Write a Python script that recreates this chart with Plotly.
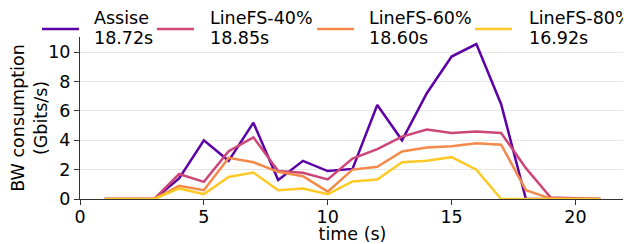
import plotly.graph_objects as go

time_s = list(range(1, 22))
assise = [0, 0, 0, 1.4, 4.0, 2.6, 5.2, 1.3, 2.6, 1.9, 2.05, 6.4, 4.0, 7.2, 9.7, 10.55, 6.45, 0, 0, 0, 0]
linefs40 = [0, 0, 0, 1.7, 1.17, 3.26, 4.2, 1.9, 1.78, 1.33, 2.75, 3.4, 4.25, 4.73, 4.5, 4.6, 4.5, 2.1, 0.1, 0.05, 0]
linefs60 = [0, 0, 0, 0.9, 0.6, 2.8, 2.5, 1.85, 1.55, 0.5, 2.0, 2.2, 3.24, 3.5, 3.6, 3.8, 3.7, 0.6, 0.03, 0, 0]
linefs80 = [0, 0, 0, 0.72, 0.33, 1.5, 1.8, 0.6, 0.72, 0.33, 1.2, 1.33, 2.5, 2.6, 2.85, 2.0, 0, 0, 0, 0, 0]

series_names = ["Assise", "LineFS-40%", "LineFS-60%", "LineFS-80%"]
completion_times = ["18.72s", "18.85s", "18.60s", "16.92s"]
series = [assise, linefs40, linefs60, linefs80]
colors = ["#5c01a6", "#cc4778", "#f48a4a", "#fdc926"]

x_ticks = [0, 5, 10, 15, 20]
y_ticks = [0, 2, 4, 6, 8, 10]

# page offset (browser body margin) compensation: layout in window pixels
W, H = 631, 244
OFF = 8
PL, PR, PT, PB = 80, 625, 37, 199  # plot area in window pixels


def xp(px):
    return (px - PL) / (PR - PL)


def yp(py):
    return (PB - py) / (PB - PT)


FS = 17.5
font = dict(family="DejaVu Sans", size=FS, color="black")

fig = go.Figure()
for n, s, c in zip(series_names, series, colors):
    fig.add_trace(go.Scatter(x=time_s, y=s, mode="lines", name=n,
                             line=dict(color=c, width=2.5), showlegend=False))

# manual legend (matplotlib style, 4 columns, two-line labels)
leg_line_x = [42, 157, 317, 475]
leg_text_x = [92, 208, 367, 527]
shapes, annotations = [], []
for i in range(4):
    shapes.append(dict(type="line", xref="paper", yref="paper",
                       x0=xp(leg_line_x[i]), x1=xp(leg_line_x[i] + 37),
                       y0=yp(29), y1=yp(29),
                       line=dict(color=colors[i], width=2.5)))
    annotations.append(dict(xref="paper", yref="paper", x=xp(leg_text_x[i]), y=yp(18.5),
                            xanchor="left", yanchor="middle", showarrow=False,
                            text=series_names[i], font=font))
    annotations.append(dict(xref="paper", yref="paper", x=xp(leg_text_x[i]), y=yp(37.5),
                            xanchor="left", yanchor="middle", showarrow=False,
                            text=completion_times[i], font=font))

fig.update_layout(
    width=W - OFF, height=H - OFF,
    margin=dict(l=PL - OFF, r=W - PR - OFF + 8, t=PT - OFF, b=H - PB, autoexpand=False),
    plot_bgcolor="white", paper_bgcolor="white",
    font=font,
    showlegend=False,
    shapes=shapes,
    annotations=annotations,
    xaxis=dict(range=[0, 22], tickvals=x_ticks, showgrid=False,
               showline=True, linecolor="#333", linewidth=1,
               ticks="outside", ticklen=5, tickcolor="#333",
               ticklabelstandoff=-3,
               title=dict(text="time (s)", font=font, standoff=5),
               zeroline=False),
    yaxis=dict(range=[0, 11.03], tickvals=y_ticks, showgrid=True,
               gridcolor="#e6e6e6", gridwidth=1,
               showline=True, linecolor="#333", linewidth=1,
               ticks="outside", ticklen=5, tickcolor="#333",
               title=dict(text="BW consumption<br>(Gbits/s)", font=font, standoff=4),
               zeroline=False),
)

fig.write_html("out.html")
